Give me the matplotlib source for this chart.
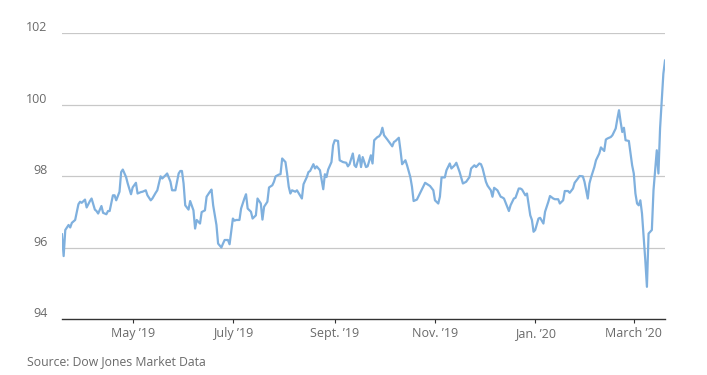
import matplotlib
matplotlib.use("Agg")
import matplotlib.pyplot as plt
import matplotlib.dates as mdates
import matplotlib.transforms as mtransforms
import pandas as pd

plt.rcParams['font.family'] = ['Open Sans', 'DejaVu Sans']

dates = [
    "2019-03-19", "2019-03-20", "2019-03-21", "2019-03-23", "2019-03-24", "2019-03-25", "2019-03-27",
    "2019-03-29", "2019-03-30", "2019-03-31", "2019-04-02", "2019-04-03", "2019-04-05", "2019-04-06",
    "2019-04-08", "2019-04-09", "2019-04-10", "2019-04-12", "2019-04-13", "2019-04-15", "2019-04-16",
    "2019-04-17", "2019-04-19", "2019-04-20", "2019-04-21", "2019-04-23", "2019-04-24", "2019-04-25",
    "2019-04-27", "2019-04-28", "2019-04-30", "2019-05-01", "2019-05-03", "2019-05-04", "2019-05-06",
    "2019-05-07", "2019-05-09", "2019-05-10", "2019-05-12", "2019-05-13", "2019-05-15", "2019-05-16",
    "2019-05-18", "2019-05-19", "2019-05-21", "2019-05-22", "2019-05-24", "2019-05-25", "2019-05-27",
    "2019-05-29", "2019-05-30", "2019-05-31", "2019-06-01", "2019-06-02", "2019-06-04", "2019-06-05",
    "2019-06-07", "2019-06-08", "2019-06-09", "2019-06-11", "2019-06-12", "2019-06-14", "2019-06-15",
    "2019-06-17", "2019-06-18", "2019-06-19", "2019-06-21", "2019-06-22", "2019-06-24", "2019-06-25",
    "2019-06-26", "2019-06-28", "2019-06-29", "2019-07-01", "2019-07-02", "2019-07-03", "2019-07-05",
    "2019-07-06", "2019-07-08", "2019-07-09", "2019-07-10", "2019-07-12", "2019-07-13", "2019-07-15",
    "2019-07-16", "2019-07-18", "2019-07-19", "2019-07-20", "2019-07-22", "2019-07-23", "2019-07-25",
    "2019-07-26", "2019-07-27", "2019-07-29", "2019-07-30", "2019-07-31", "2019-08-02", "2019-08-03",
    "2019-08-04", "2019-08-05", "2019-08-06", "2019-08-08", "2019-08-09", "2019-08-12", "2019-08-13",
    "2019-08-15", "2019-08-16", "2019-08-17", "2019-08-19", "2019-08-20", "2019-08-21", "2019-08-23",
    "2019-08-25", "2019-08-26", "2019-08-27", "2019-08-28", "2019-08-30", "2019-08-31", "2019-09-01",
    "2019-09-03", "2019-09-04", "2019-09-06", "2019-09-08", "2019-09-09", "2019-09-10", "2019-09-12",
    "2019-09-13", "2019-09-14", "2019-09-16", "2019-09-17", "2019-09-18", "2019-09-20", "2019-09-21",
    "2019-09-23", "2019-09-24", "2019-09-25", "2019-09-27", "2019-09-28", "2019-09-29", "2019-09-30",
    "2019-10-01", "2019-10-03", "2019-10-05", "2019-10-06", "2019-10-07", "2019-10-08", "2019-10-10",
    "2019-10-11", "2019-10-12", "2019-10-14", "2019-10-15", "2019-10-17", "2019-10-18", "2019-10-19",
    "2019-10-21", "2019-10-23", "2019-10-26", "2019-10-29", "2019-10-31", "2019-11-01", "2019-11-03",
    "2019-11-04", "2019-11-05", "2019-11-07", "2019-11-08", "2019-11-10", "2019-11-11", "2019-11-13",
    "2019-11-14", "2019-11-16", "2019-11-18", "2019-11-20", "2019-11-22", "2019-11-23", "2019-11-25",
    "2019-11-26", "2019-11-28", "2019-11-29", "2019-11-30", "2019-12-02", "2019-12-03", "2019-12-05",
    "2019-12-06", "2019-12-07", "2019-12-09", "2019-12-11", "2019-12-12", "2019-12-13", "2019-12-15",
    "2019-12-16", "2019-12-17", "2019-12-19", "2019-12-20", "2019-12-22", "2019-12-23", "2019-12-24",
    "2019-12-26", "2019-12-27", "2019-12-29", "2019-12-30", "2019-12-31", "2020-01-01", "2020-01-03",
    "2020-01-04", "2020-01-06", "2020-01-07", "2020-01-09", "2020-01-10", "2020-01-12", "2020-01-13",
    "2020-01-15", "2020-01-16", "2020-01-18", "2020-01-19", "2020-01-21", "2020-01-22", "2020-01-24",
    "2020-01-25", "2020-01-27", "2020-01-28", "2020-01-30", "2020-01-31", "2020-02-02", "2020-02-03",
    "2020-02-04", "2020-02-06", "2020-02-07", "2020-02-09", "2020-02-10", "2020-02-12", "2020-02-13",
    "2020-02-14", "2020-02-16", "2020-02-17", "2020-02-19", "2020-02-20", "2020-02-21", "2020-02-22",
    "2020-02-23", "2020-02-24", "2020-02-25", "2020-02-27", "2020-02-28", "2020-02-29", "2020-03-01",
    "2020-03-02", "2020-03-03", "2020-03-04", "2020-03-05", "2020-03-06", "2020-03-07", "2020-03-08",
    "2020-03-09", "2020-03-10", "2020-03-12", "2020-03-13", "2020-03-15", "2020-03-16", "2020-03-17",
    "2020-03-19", "2020-03-20",
]

values = [
    96.37, 95.76, 96.49, 96.63, 96.56, 96.69, 96.77,
    97.21, 97.28, 97.25, 97.34, 97.12, 97.30, 97.37,
    97.06, 97.02, 96.95, 97.16, 96.97, 96.93, 97.02,
    97.02, 97.46, 97.46, 97.32, 97.56, 98.11, 98.18,
    97.97, 97.79, 97.49, 97.68, 97.81, 97.51, 97.55,
    97.56, 97.60, 97.46, 97.32, 97.37, 97.53, 97.60,
    97.99, 97.93, 98.02, 98.07, 97.84, 97.60, 97.60,
    98.07, 98.14, 98.14, 97.79, 97.18, 97.06, 97.30,
    97.04, 96.53, 96.77, 96.67, 96.99, 97.04, 97.42,
    97.56, 97.62, 97.18, 96.63, 96.11, 96.00, 96.11,
    96.21, 96.21, 96.09, 96.81, 96.75, 96.77, 96.77,
    97.09, 97.37, 97.49, 97.09, 97.00, 96.81, 96.90,
    97.37, 97.23, 96.78, 97.14, 97.28, 97.68, 97.74,
    97.84, 97.99, 98.04, 98.05, 98.49, 98.39, 98.07,
    97.70, 97.51, 97.60, 97.56, 97.60, 97.37, 97.77,
    97.97, 98.11, 98.14, 98.33, 98.21, 98.27, 98.16,
    97.63, 98.05, 97.97, 98.18, 98.39, 98.86, 99.00,
    98.98, 98.44, 98.39, 98.37, 98.27, 98.33, 98.63,
    98.30, 98.25, 98.58, 98.25, 98.53, 98.25, 98.27,
    98.58, 98.35, 99.00, 99.09, 99.11, 99.18, 99.35,
    99.14, 99.02, 98.89, 98.83, 98.95, 98.98, 99.07,
    98.72, 98.33, 98.44, 98.30, 97.97, 97.70, 97.30,
    97.34, 97.53, 97.81, 97.72, 97.60, 97.32, 97.23,
    97.42, 97.96, 97.96, 98.16, 98.35, 98.21, 98.30,
    98.37, 98.11, 97.79, 97.84, 97.97, 98.21, 98.30,
    98.25, 98.35, 98.33, 98.21, 97.84, 97.73, 97.60,
    97.42, 97.67, 97.60, 97.42, 97.40, 97.37, 97.14,
    97.02, 97.18, 97.37, 97.39, 97.65, 97.65, 97.62,
    97.46, 97.51, 96.90, 96.77, 96.44, 96.49, 96.81,
    96.83, 96.67, 97.00, 97.28, 97.44, 97.37, 97.35,
    97.35, 97.23, 97.32, 97.58, 97.58, 97.53, 97.65,
    97.81, 97.93, 98.00, 97.99, 97.84, 97.37, 97.79,
    97.96, 98.25, 98.44, 98.63, 98.80, 98.70, 99.02,
    99.05, 99.09, 99.14, 99.33, 99.60, 99.84, 99.51,
    99.23, 99.35, 99.00, 98.98, 98.63, 98.30, 98.07,
    97.51, 97.23, 97.18, 97.32, 96.95, 96.30, 95.65,
    94.90, 96.39, 96.49, 97.60, 98.72, 98.07, 99.33,
    100.86, 101.23,
]

tick_dates = ["2019-05-01", "2019-07-01", "2019-09-01", "2019-11-01", "2020-01-01", "2020-03-01"]
tick_labels = ["May \u201919", "July \u201919", "Sept. \u201919", "Nov. \u201919", "Jan. \u201920", "March \u201920"]
y_ticks = [94, 96, 98, 100, 102]
y_labels = ["94", "96", "98", "100", "102"]
source = "Source: Dow Jones Market Data"

x = pd.to_datetime(dates)

fig = plt.figure(figsize=(7.07, 3.75), dpi=100)
ax = fig.add_axes([62 / 707, (375 - 319) / 375, (665 - 62) / 707, (319 - 33) / 375])

ax.plot(x, values, color="#7fb0de", linewidth=1.6, solid_joinstyle="round", zorder=3)

ax.set_xlim(pd.Timestamp("2019-03-19"), pd.Timestamp("2020-03-20"))
ax.set_ylim(94, 102)

ax.set_yticks(y_ticks)
ax.set_yticklabels(y_labels)
ax.set_xticks(pd.to_datetime(tick_dates))
ax.set_xticklabels(tick_labels)

for s in ["top", "right", "left"]:
    ax.spines[s].set_visible(False)
ax.spines["bottom"].set_color("#333333")
ax.spines["bottom"].set_linewidth(1.0)

for yv in y_ticks[1:]:
    ax.axhline(yv, color="#c8c8c8", linewidth=0.9, zorder=1)

ax.tick_params(axis="y", length=0, pad=10.5, labelsize=9, labelcolor="#6a6a6a")
ax.tick_params(axis="x", length=3, width=0.8, color="#333333", pad=3,
               labelsize=9, labelcolor="#6a6a6a")

offset = mtransforms.ScaledTranslation(0, 5 / 72, fig.dpi_scale_trans)
for lab in ax.get_yticklabels():
    lab.set_transform(lab.get_transform() + offset)

fig.text(27 / 707, 1 - 362 / 375, source, ha="left", va="center",
         fontsize=8.8, color="#6a6a6a")

fig.savefig("out.png", dpi=100)
